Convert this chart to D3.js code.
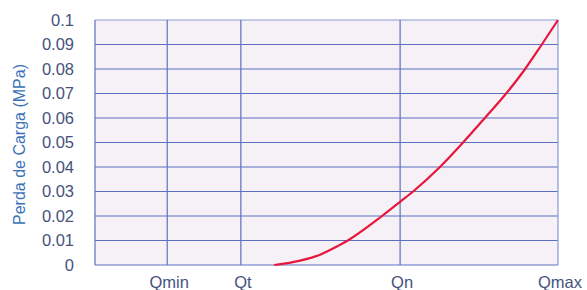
<!DOCTYPE html>
<html>
<head>
<meta charset="utf-8">
<script src="https://cdn.jsdelivr.net/npm/d3@7"></script>
<style>
body{margin:0;background:#fff;}
svg{display:block;font-family:"Liberation Sans",Arial,sans-serif;}
</style>
</head>
<body>
<svg id="chart"></svg>
<script>
var WIDTH=587,HEIGHT=290;
var margin={top:20,right:29,bottom:25,left:95};

// vazão relativa (Qmax=1) e perda de carga (MPa)
var qLabels=["Qmin","Qt","Qn","Qmax"];
var qValues=[0.156,0.315,0.659,1.0];
var yTicks=[0,0.01,0.02,0.03,0.04,0.05,0.06,0.07,0.08,0.09,0.1];
var tickText=["0","0.01","0.02","0.03","0.04","0.05","0.06","0.07","0.08","0.09","0.1"];
var curveX=[0.387,0.443,0.486,0.525,0.546,0.620,0.659,0.687,0.745,0.795,0.842,0.888,0.929,0.965,1.0];
var curveY=[0,0.0018,0.0042,0.0078,0.01,0.02,0.0258,0.03,0.04,0.05,0.06,0.07,0.08,0.09,0.1];

var svg=d3.select("#chart").attr("width",WIDTH).attr("height",HEIGHT);
var w=WIDTH-margin.left-margin.right,h=HEIGHT-margin.top-margin.bottom;

var x=d3.scaleLinear().domain([0,1]).range([margin.left,margin.left+w]);
var y=d3.scaleLinear().domain([0,0.1]).range([margin.top+h,margin.top]);

//fundo
svg.append("rect")
    .attr("x",x(0)).attr("y",y(0.1))
    .attr("width",x(1)-x(0)).attr("height",y(0)-y(0.1))
    .attr("fill","#f5f1f6");

//linhas horizontais
svg.append("g").selectAll("line").data(yTicks).enter().append("line")
    .attr("x1",x(0)).attr("x2",x(1))
    .attr("y1",function(d){return y(d)}).attr("y2",function(d){return y(d)})
    .attr("stroke",function(d){return d==0.1?"#8d97d2":"#5d70c0"})
    .attr("stroke-width",1.2);

//linhas verticais
svg.append("g").selectAll("line").data([0].concat(qValues)).enter().append("line")
    .attr("x1",function(d){return x(d)}).attr("x2",function(d){return x(d)})
    .attr("y1",y(0)).attr("y2",y(0.1))
    .attr("stroke",function(d){return d==1?"#8d97d2":"#5d70c0"})
    .attr("stroke-width",1.2);

//rótulos do eixo y
svg.append("g").selectAll("text").data(yTicks).enter().append("text")
    .attr("x",margin.left-21)
    .attr("y",function(d){return y(d)})
    .attr("dy","0.36em")
    .attr("text-anchor","end")
    .attr("font-size",16.5)
    .attr("fill","#46527e")
    .text(function(d,i){return tickText[i]});

//rótulos do eixo x
svg.append("g").selectAll("text").data(qValues).enter().append("text")
    .attr("x",function(d){return x(d)+2})
    .attr("y",288)
    .attr("text-anchor","middle")
    .attr("font-size",16.5)
    .attr("fill","#46527e")
    .text(function(d,i){return qLabels[i]});

//título
svg.append("text")
    .attr("transform","translate(25,"+((y(0)+y(0.1))/2+2)+") rotate(-90)")
    .attr("text-anchor","middle")
    .attr("font-size",16)
    .attr("fill","#3b72b6")
    .text("Perda de Carga (MPa)");

//curva
var line=d3.line()
    .x(function(d){return x(d[0])})
    .y(function(d){return y(d[1])})
    .curve(d3.curveMonotoneX);
svg.append("path")
    .datum(d3.zip(curveX,curveY))
    .attr("d",line)
    .attr("fill","none")
    .attr("stroke","#e8163c")
    .attr("stroke-width",2.2);
</script>
</body>
</html>
